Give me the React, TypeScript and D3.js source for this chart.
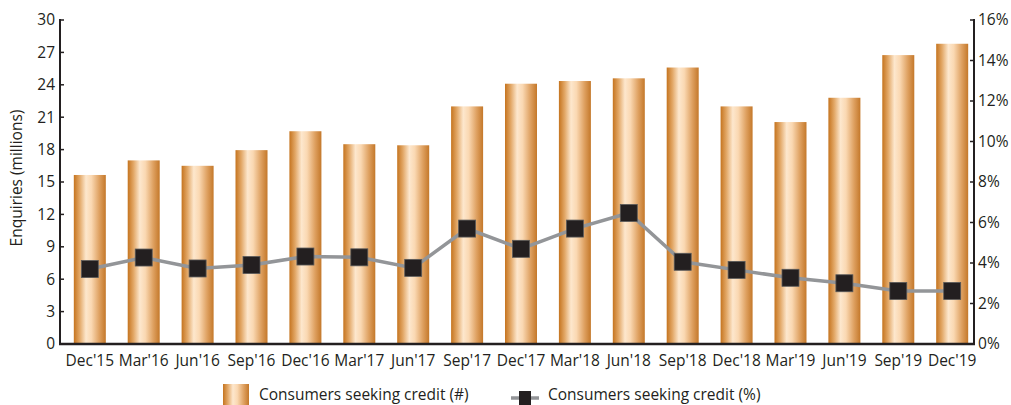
import React from "react";
import * as d3 from "d3";

const categories = ["Dec'15","Mar'16","Jun'16","Sep'16","Dec'16","Mar'17","Jun'17","Sep'17","Dec'17","Mar'18","Jun'18","Sep'18","Dec'18","Mar'19","Jun'19","Sep'19","Dec'19"];
const enquiries = [15.65,17.0,16.5,17.95,19.7,18.5,18.4,22.0,24.1,24.35,24.6,25.6,22.0,20.55,22.8,26.75,27.8];
const percentSeeking = [3.7,4.27,3.73,3.9,4.32,4.28,3.76,5.7,4.7,5.7,6.47,4.06,3.66,3.27,3.0,2.62,2.62];
const leftTicks = [0,3,6,9,12,15,18,21,24,27,30];
const rightTicks = [0,2,4,6,8,10,12,14,16];

const W = 1011, H = 405;
const FONT = "'Open Sans', 'Noto Sans', sans-serif";
const FS = 15.5;

export default function App() {
  const x = d3.scaleBand<string>().domain(categories).range([63, 979]).paddingInner(0.405).paddingOuter(0.2);
  const yL = d3.scaleLinear().domain([0, 30]).range([344, 20]);
  const yR = d3.scaleLinear().domain([0, 16]).range([344, 20]);
  const cx = (c: string) => (x(c) as number) + x.bandwidth() / 2;
  const barW = 32;
  const line = d3.line<number>().x((_, i) => cx(categories[i])).y(d => yR(d));
  const axL = 60, axR = 974;
  return (
    <svg width={W} height={H} style={{ position: "absolute", left: 0, top: 0 }} fontFamily={FONT}>
      <defs>
        <linearGradient id="barGrad" x1="0" x2="1" y1="0" y2="0">
          <stop offset="0" stopColor="#c5741f" />
          <stop offset="0.18" stopColor="#e2a766" />
          <stop offset="0.38" stopColor="#fde7cd" />
          <stop offset="0.55" stopColor="#fad8b2" />
          <stop offset="0.8" stopColor="#dea060" />
          <stop offset="1" stopColor="#c4782a" />
        </linearGradient>
      </defs>
      {categories.map((c, i) => (
        <rect key={c} x={cx(c) - barW / 2} y={yL(enquiries[i])} width={barW} height={yL(0) - yL(enquiries[i])} fill="url(#barGrad)" />
      ))}
      {/* left axis */}
      <line x1={axL} x2={axL} y1={19} y2={345} stroke="#231f20" strokeWidth={2} />
      {leftTicks.map(t => (
        <g key={"l" + t}>
          <line x1={axL} x2={axL + 4} y1={yL(t)} y2={yL(t)} stroke="#231f20" strokeWidth={1.5} />
          <text x={axL - 5} y={yL(t)} dy="0.35em" textAnchor="end" fontSize={FS} fill="#231f20">{t}</text>
        </g>
      ))}
      {/* right axis */}
      <line x1={axR} x2={axR} y1={19} y2={345} stroke="#231f20" strokeWidth={2} />
      {rightTicks.map(t => (
        <g key={"r" + t}>
          <line x1={axR - 4} x2={axR} y1={yR(t)} y2={yR(t)} stroke="#231f20" strokeWidth={1.5} />
          <text x={axR + 4} y={yR(t)} dy="0.35em" textAnchor="start" fontSize={FS} fill="#231f20">{t}%</text>
        </g>
      ))}
      {/* baseline */}
      <line x1={axL - 1} x2={axR + 1} y1={344} y2={344} stroke="#231f20" strokeWidth={2.5} />
      {categories.map(c => (
        <text key={"x" + c} x={cx(c)} y={366} textAnchor="middle" fontSize={FS} fill="#231f20">{c}</text>
      ))}
      <text transform={`translate(22,178) rotate(-90)`} textAnchor="middle" fontSize={FS} fill="#231f20">Enquiries (millions)</text>
      {/* line series */}
      <path d={line(percentSeeking) || ""} fill="none" stroke="#939598" strokeWidth={3.5} />
      {percentSeeking.map((v, i) => (
        <rect key={"m" + i} x={cx(categories[i]) - 8.5} y={yR(v) - 8.5} width={17} height={17} fill="#231f20" stroke="#5a5a5a" strokeWidth={0.8} />
      ))}
      {/* legend */}
      <rect x={223} y={384} width={26} height={21} fill="url(#barGrad)" />
      <text x={259} y={399.5} fontSize={FS} fill="#231f20">Consumers seeking credit (#)</text>
      <line x1={511} x2={539} y1={398} y2={398} stroke="#939598" strokeWidth={3.5} />
      <rect x={519} y={391} width={12} height={14} fill="#231f20" />
      <text x={548} y={399.5} fontSize={FS} fill="#231f20">Consumers seeking credit (%)</text>
    </svg>
  );
}
